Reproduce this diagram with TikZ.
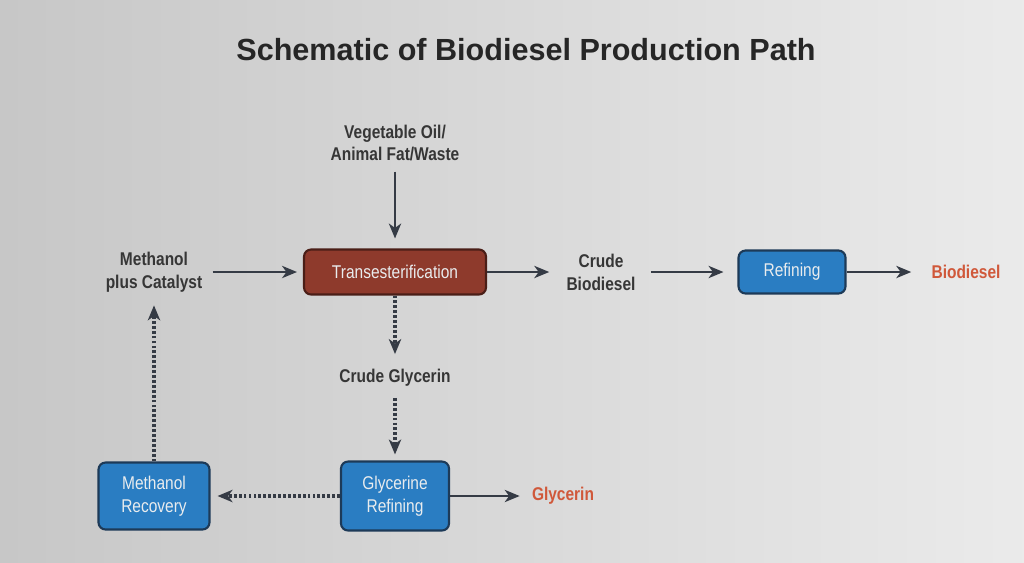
\documentclass[tikz,border=0pt]{standalone}
\usepackage{fontspec}
\setmainfont{Liberation Sans}
\newfontfamily\narrowfont[FakeStretch=0.84]{Liberation Sans}
\usetikzlibrary{arrows.meta, positioning}

\definecolor{arrowgray}{HTML}{353B45}
\definecolor{labelgray}{HTML}{363636}
\definecolor{transred}{HTML}{8E3A2C}
\definecolor{transedge}{HTML}{4A1E17}
\definecolor{refblue}{HTML}{2A7DC2}
\definecolor{blueedge}{HTML}{1D3A58}
\definecolor{boxtext}{HTML}{E9ECEE}
\definecolor{outred}{HTML}{D0583A}

\begin{document}
\begin{tikzpicture}[x=0.02cm, y=-0.02cm, >={Stealth[length=8.5pt, width=7pt, inset=2.5pt]},
    label/.style={inner sep=0pt, align=center, text=labelgray, font=\narrowfont\bfseries\fontsize{10.5}{13}\selectfont},
    product/.style={inner sep=0pt, text=outred, font=\narrowfont\bfseries\fontsize{10.5}{13}\selectfont},
    procbox/.style={draw=blueedge, line width=1.2pt, fill=refblue, rounded corners=4pt, align=center, text=boxtext, font=\narrowfont\fontsize{10.5}{13}\selectfont},
    flow/.style={->, draw=arrowgray, line width=1.1pt},
    sideflow/.style={->, draw=arrowgray, line width=1.9pt, dash pattern=on 1.6pt off 1.2pt}]

    % Background
    \shade[left color=black!22, right color=black!8] (0,0) rectangle (1024,562);

    % Title
    \node[text=black!85, font=\bfseries\fontsize{17.4}{20}\selectfont] (title) at (526,50) {Schematic of Biodiesel Production Path};

    % Main line
    \node[label] (feed) at (395,143) {Vegetable Oil/\\Animal Fat/Waste};
    \node[label] (methcat) at (154,272) {Methanol\\plus Catalyst};
    \node[procbox, draw=transedge, fill=transred, minimum width=3.64cm, minimum height=0.9cm] (trans) at (395,272) {Transesterification};
    \node[label] (crudebio) at (601,272) {Crude\\Biodiesel};
    \node[procbox, minimum width=2.14cm, minimum height=0.86cm] (refine) at (792,272) {Refining};
    \node[product] (biodiesel) at (966,272) {Biodiesel};

    \draw[flow, shorten <=0.2cm, shorten >=0.2cm] (feed) -- (trans);
    \draw[flow, shorten <=0.2cm, shorten >=0.12cm] (methcat) -- (trans);
    \draw[flow, shorten >=0.34cm] (trans) -- (crudebio);
    \draw[flow, shorten <=0.3cm, shorten >=0.28cm] (crudebio) -- (refine);
    \draw[flow, shorten >=0.4cm] (refine) -- (biodiesel);

    % Glycerin line
    \node[label] (crudegly) at (395,378) {Crude Glycerin};
    \node[procbox, minimum width=2.16cm, minimum height=1.38cm] (glyref) at (395,496) {Glycerine\\Refining};
    \node[procbox, minimum width=2.22cm, minimum height=1.34cm] (methrec) at (154,496) {Methanol\\Recovery};
    \node[product] (glycerin) at (563,496) {Glycerin};

    \draw[sideflow, shorten >=0.3cm] (trans) -- (crudegly);
    \draw[sideflow, shorten <=0.22cm, shorten >=0.12cm] (crudegly) -- (glyref);
    \draw[flow, shorten >=0.24cm] (glyref) -- (glycerin);
    \draw[sideflow, shorten >=0.14cm] (glyref) -- (methrec);
    \draw[sideflow, shorten >=0.26cm] (methrec) -- (methcat);
\end{tikzpicture}
\end{document}
